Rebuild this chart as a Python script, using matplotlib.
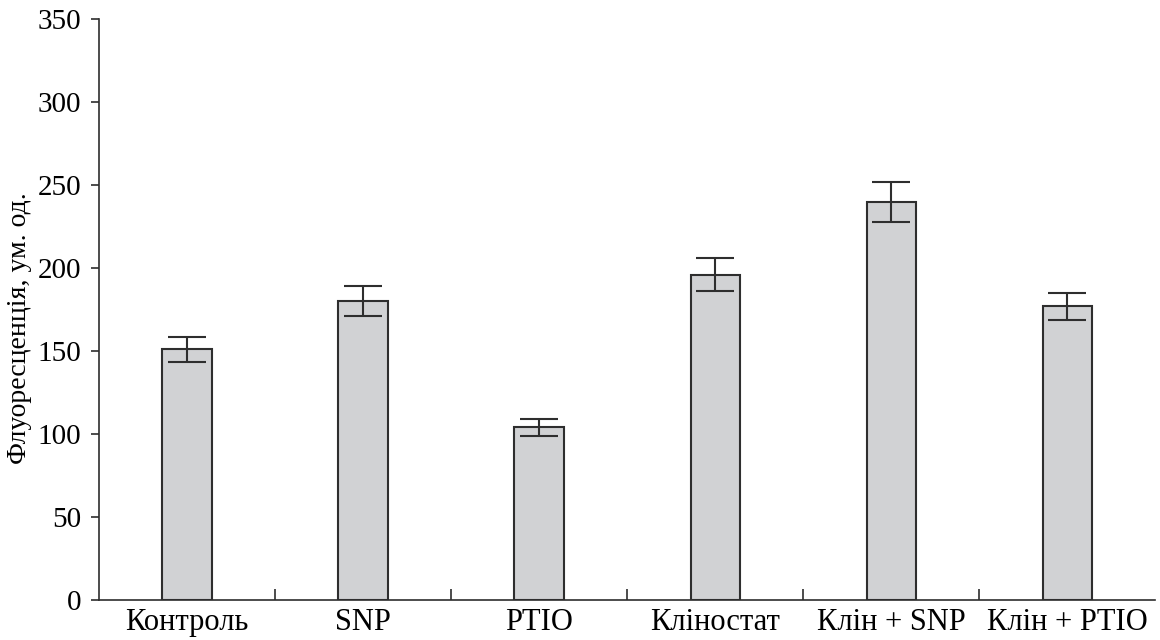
import matplotlib
matplotlib.use("Agg")
import matplotlib.pyplot as plt
import numpy as np

plt.rcParams.update({
    "font.family": ["Liberation Serif", "DejaVu Serif"],
    "font.size": 21,
})

groups = ["Контроль", "SNP", "PTIO", "Кліностат", "Клін + SNP", "Клін + PTIO"]
means = [151, 180, 104, 196, 240, 177]
errors = [7.5, 9, 5, 10, 12, 8]

fig = plt.figure(figsize=(11.6, 6.4), dpi=100)
ax = fig.add_axes([0.0853, 0.0625, 0.9107, 0.9075])

x = np.arange(len(groups))
ax.bar(x, means, width=0.28, color="#d1d2d4", edgecolor="#2e2e2e", linewidth=1.5,
       yerr=errors, error_kw=dict(ecolor="#2e2e2e", elinewidth=1.5, capsize=14, capthick=1.5))

ax.set_xlim(-0.5, len(groups) - 0.5)
ax.set_ylim(0, 350)
ax.set_yticks(range(0, 351, 50))
ax.set_xticks(x)
ax.set_xticklabels(groups, fontsize=22)
ax.set_xticks(np.arange(0.5, len(groups) - 1, 1.0), minor=True)
ax.tick_params(axis="x", which="major", length=0, pad=6)
ax.tick_params(axis="x", which="minor", direction="in", length=8, width=1.2, color="#2e2e2e")
ax.tick_params(axis="y", direction="out", length=6, width=1.2, color="#2e2e2e", pad=7,
               labelsize=21)
ax.set_ylabel("Флуоресценція, ум. од.", fontsize=20)
ax.yaxis.set_label_coords(-0.063, 0.468)

for s in ("top", "right"):
    ax.spines[s].set_visible(False)
for s in ("left", "bottom"):
    ax.spines[s].set_linewidth(1.2)
    ax.spines[s].set_color("#2e2e2e")

fig.savefig("out.png", dpi=100)
